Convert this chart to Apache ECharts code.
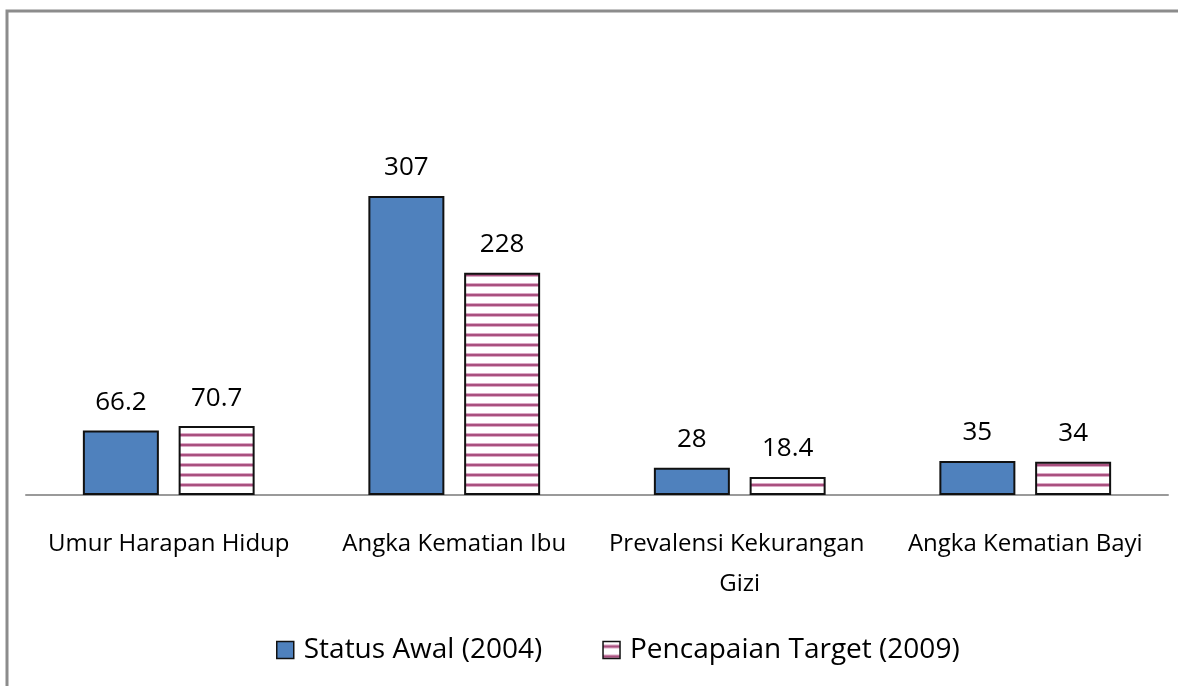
<!DOCTYPE html>
<html>
<head>
<meta charset="utf-8">
<script src="https://cdn.jsdelivr.net/npm/echarts@6/dist/echarts.min.js"></script>
<style>
  html, body { margin: 0; padding: 0; background: #fff; }
  #chart { width: 1178px; height: 686px; }
</style>
</head>
<body>
<div id="chart"></div>
<script>
// data
var categories = ['Umur Harapan Hidup', 'Angka Kematian Ibu', 'Prevalensi Kekurangan Gizi', 'Angka Kematian Bayi'];
var seriesNames = ['Status Awal (2004)', 'Pencapaian Target (2009)'];
var statusAwal = [66.2, 307, 28, 35];
var target2009 = [70.7, 228, 18.4, 34];

// horizontal stripe fill for the 2009 bars
var makeStripes = function () {
    var c = document.createElement('canvas');
    c.width = 10;
    c.height = 10;
    var ctx = c.getContext('2d');
    ctx.fillStyle = '#ffffff';
    ctx.fillRect(0, 0, 10, 10);
    ctx.fillStyle = '#dcaac6';
    ctx.fillRect(0, 3, 10, 1);
    ctx.fillRect(0, 6, 10, 1);
    ctx.fillStyle = '#a9507f';
    ctx.fillRect(0, 4, 10, 2);
    return c;
};
var stripes = makeStripes();

var font = '"Open Sans", sans-serif';

var drawChart = function () {
    var chart = echarts.init(document.getElementById('chart'));
    var option = {
        backgroundColor: '#fff',
        animation: false,
        textStyle: { fontFamily: font },
        graphic: [{
            type: 'rect',
            shape: { x: 7, y: 11, width: 1300, height: 800 },
            style: { fill: 'none', stroke: '#8c8c8c', lineWidth: 3 },
            silent: true
        }],
        grid: { left: 26, right: 10, top: 154, bottom: 191, containLabel: false },
        legend: {
            bottom: 17,
            left: 271,
            itemWidth: 17,
            itemHeight: 17,
            itemGap: 60,
            textStyle: { fontFamily: font, fontSize: 28, color: '#000', padding: [0, 0, 0, 5] },
            data: [
                { name: seriesNames[0], icon: 'rect', itemStyle: { color: '#4f81bd', borderColor: '#111', borderWidth: 1.5 } },
                { name: seriesNames[1], icon: 'rect', itemStyle: { color: { image: stripes, repeat: 'repeat' }, borderColor: '#111', borderWidth: 1.5 } }
            ]
        },
        xAxis: {
            type: 'category',
            data: categories,
            axisLine: { lineStyle: { color: '#9a9a9a', width: 2 } },
            axisTick: { show: false },
            axisLabel: {
                color: '#000',
                fontFamily: font,
                fontSize: 24,
                margin: 29,
                lineHeight: 40,
                width: 272,
                overflow: 'break',
                interval: 0
            }
        },
        yAxis: {
            type: 'value',
            min: 0,
            max: 350,
            show: false,
            splitLine: { show: false }
        },
        series: [
            {
                name: seriesNames[0],
                type: 'bar',
                data: statusAwal,
                barWidth: 76,
                barGap: '26%',
                itemStyle: { color: '#4f81bd', borderColor: '#111', borderWidth: 2 },
                label: { show: true, position: 'top', distance: 15, color: '#000', fontFamily: font, fontSize: 26 }
            },
            {
                name: seriesNames[1],
                type: 'bar',
                data: target2009,
                barWidth: 76,
                itemStyle: { color: { image: stripes, repeat: 'repeat' }, borderColor: '#111', borderWidth: 2 },
                label: { show: true, position: 'top', distance: 15, color: '#000', fontFamily: font, fontSize: 26 }
            }
        ]
    };
    chart.setOption(option);
};

drawChart();
</script>
</body>
</html>
